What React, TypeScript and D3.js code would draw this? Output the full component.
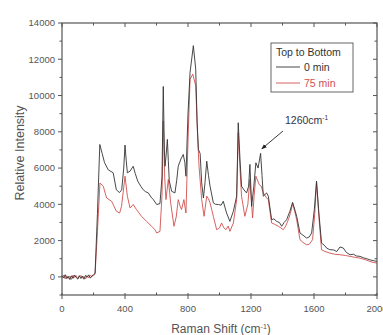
import * as d3 from 'd3';

// Raman spectra, 0 min and 75 min
const shift0 = [0, 10, 20, 30, 40, 50, 60, 70, 80, 90, 100, 110, 120, 130, 140, 150, 160, 170, 180, 190, 200, 210, 225, 240, 255, 270, 294, 325, 345, 365, 379, 392, 400, 408, 415, 432, 452, 465, 481, 500, 516, 530, 548, 565, 580, 601, 622, 635, 643, 650, 654, 660, 669, 675, 681, 696, 717, 728, 738, 755, 770, 780, 787, 800, 813, 834, 849, 858, 866, 877, 887, 898, 908, 919, 930, 940, 961, 975, 993, 1010, 1024, 1045, 1066, 1088, 1109, 1119, 1130, 1140, 1155, 1172, 1185, 1193, 1204, 1218, 1231, 1245, 1261, 1270, 1278, 1299, 1310, 1331, 1345, 1363, 1380, 1395, 1410, 1426, 1447, 1464, 1475, 1490, 1511, 1530, 1553, 1570, 1585, 1602, 1616, 1631, 1648, 1665, 1680, 1700, 1723, 1745, 1765, 1786, 1805, 1829, 1850, 1870, 1892, 1915, 1935, 1955, 1975, 2000];
const intensity0 = [80, -60, 120, -100, 30, -150, 60, -80, 100, -40, -120, 70, -90, 40, -130, 90, -20, 110, -70, 60, 120, 200, 3500, 7300, 6800, 6300, 5900, 5740, 4800, 4650, 4800, 6000, 7270, 6400, 5740, 5830, 6100, 5700, 5280, 5000, 4800, 4700, 4630, 4400, 4260, 3990, 4040, 5500, 10500, 7000, 6100, 6600, 7580, 6400, 5300, 4720, 4630, 5300, 6100, 6500, 6750, 6300, 5550, 9000, 11270, 12750, 11460, 8500, 7030, 6800, 5180, 4350, 5200, 6380, 5600, 5000, 4080, 4000, 3990, 3950, 4170, 3520, 3060, 3620, 4450, 8500, 6500, 5000, 4800, 4630, 5000, 6200, 3890, 5000, 6290, 6000, 6810, 5600, 4450, 4630, 4450, 3150, 3200, 3060, 3000, 2790, 3000, 3150, 3620, 4110, 3800, 3340, 2420, 2300, 2140, 2200, 2420, 3710, 5280, 3520, 1860, 1750, 1590, 1500, 1490, 1400, 1650, 1590, 1350, 1220, 1250, 1150, 1130, 1050, 1000, 940, 900, 850];

const shift75 = [0, 10, 20, 30, 40, 50, 60, 70, 80, 90, 100, 110, 120, 130, 140, 150, 160, 170, 180, 190, 200, 210, 225, 241, 262, 283, 315, 330, 345, 366, 378, 388, 400, 415, 432, 452, 473, 505, 537, 569, 590, 601, 622, 635, 643, 652, 660, 675, 690, 711, 725, 738, 750, 759, 774, 787, 800, 813, 830, 849, 860, 870, 887, 902, 919, 930, 940, 961, 982, 1000, 1013, 1028, 1041, 1055, 1066, 1088, 1109, 1119, 1130, 1140, 1161, 1180, 1193, 1210, 1220, 1231, 1252, 1265, 1278, 1295, 1310, 1331, 1350, 1374, 1390, 1405, 1420, 1437, 1450, 1464, 1478, 1490, 1511, 1530, 1553, 1570, 1591, 1605, 1616, 1631, 1648, 1670, 1701, 1730, 1765, 1800, 1829, 1860, 1892, 1925, 1955, 1975, 2000];
const intensity75 = [-40, 90, -110, 60, -80, 40, -140, 100, -30, 70, -100, -20, 80, -60, 20, -110, 60, -50, 90, 20, 80, 150, 2500, 5180, 5000, 4350, 4170, 3900, 3620, 3520, 3900, 4630, 5550, 4450, 3800, 3990, 3710, 3340, 3060, 2790, 2600, 2420, 2510, 4500, 8600, 5500, 4260, 5370, 4080, 2790, 3300, 4260, 3900, 3710, 4260, 3520, 7500, 10900, 11180, 10540, 8000, 6100, 4260, 3340, 4450, 4300, 4080, 3340, 2600, 2700, 2970, 2700, 2600, 2800, 2510, 2970, 4260, 7950, 6000, 4450, 3340, 4000, 5370, 3250, 4500, 5550, 5090, 5000, 4630, 4400, 4260, 2970, 2900, 2790, 2700, 2600, 2800, 3150, 3500, 4040, 3600, 3150, 2050, 1900, 1770, 1800, 2050, 3500, 5220, 3340, 1490, 1400, 1310, 1250, 1220, 1180, 1130, 1080, 1030, 950, 850, 800, 760];

const xTicks = [0, 400, 800, 1200, 1600, 2000];
const xMinorTicks = [200, 600, 1000, 1400, 1800];
const yTicks = [0, 2000, 4000, 6000, 8000, 10000, 12000, 14000];
const yMinorTicks = [-1000, 1000, 3000, 5000, 7000, 9000, 11000, 13000];
const legendTitle = 'Top to Bottom';
const seriesNames = ['0 min', '75 min'];
const annotation = '1260cm';

const W = 383;
const H = 335;
const left = 62;
const right = 377;
const top = 23;
const bottom = 295;
const axisColor = '#555';
const textColor = '#555';
const font = '"Liberation Sans", Arial, sans-serif';
const black = '#333';
const red = '#d0504f';

export default function App() {
  const x = d3.scaleLinear().domain([0, 2000]).range([left, right]);
  const y = d3.scaleLinear().domain([-1000, 14000]).range([bottom, top]);

  const line = d3
    .line<[number, number]>()
    .x((d) => x(d[0]))
    .y((d) => y(d[1]));

  const pts0 = shift0.map((s, i) => [s, intensity0[i]] as [number, number]);
  const pts75 = shift75.map((s, i) => [s, intensity75[i]] as [number, number]);

  // arrow points at the 1260 peak of the 0 min curve
  const ax = x(1262);
  const ay = y(6950);

  return (
    <svg
      width={W}
      height={H}
      style={{ position: 'absolute', left: 0, top: 0, background: '#fff' }}
      fontFamily={font}
    >
      <defs>
        <marker id="arr" viewBox="0 0 10 10" refX="9" refY="5" markerWidth="6" markerHeight="6" orient="auto">
          <path d="M0,1 L10,5 L0,9 z" fill="#222" />
        </marker>
      </defs>

      {/* series */}
      <path d={line(pts75) ?? ''} fill="none" stroke={red} strokeWidth={0.9} />
      <path d={line(pts0) ?? ''} fill="none" stroke={black} strokeWidth={0.9} />

      {/* frame */}
      <rect x={left} y={top} width={right - left} height={bottom - top} fill="none" stroke={axisColor} strokeWidth={1.2} />

      {/* bottom axis */}
      {xTicks.map((t) => (
        <g key={`xt${t}`}>
          <line x1={x(t)} x2={x(t)} y1={bottom - 2} y2={bottom + 4} stroke={axisColor} />
          <line x1={x(t)} x2={x(t)} y1={top} y2={top + 4} stroke={axisColor} />
          <text x={x(t)} y={bottom + 17} textAnchor="middle" fontSize={9.5} fill={textColor}>
            {t}
          </text>
        </g>
      ))}
      {xMinorTicks.map((t) => (
        <g key={`xm${t}`}>
          <line x1={x(t)} x2={x(t)} y1={bottom - 2.5} y2={bottom} stroke={axisColor} />
          <line x1={x(t)} x2={x(t)} y1={top} y2={top + 2.5} stroke={axisColor} />
        </g>
      ))}

      {/* left axis */}
      {yTicks.map((t) => (
        <g key={`yt${t}`}>
          <line x1={left - 4} x2={left} y1={y(t)} y2={y(t)} stroke={axisColor} />
          <line x1={right - 4} x2={right} y1={y(t)} y2={y(t)} stroke={axisColor} />
          <text x={left - 7} y={y(t)} dy="0.35em" textAnchor="end" fontSize={9.5} fill={textColor}>
            {t}
          </text>
        </g>
      ))}
      {yMinorTicks.map((t) => (
        <g key={`ym${t}`}>
          <line x1={left - 2.5} x2={left} y1={y(t)} y2={y(t)} stroke={axisColor} />
          <line x1={right - 2.5} x2={right} y1={y(t)} y2={y(t)} stroke={axisColor} />
        </g>
      ))}

      {/* axis titles */}
      <text
        transform={`translate(${24},${153}) rotate(-90)`}
        textAnchor="middle"
        fontSize={12.5}
        fill={textColor}
      >
        Relative Intensity
      </text>
      <text x={221} y={333} textAnchor="middle" fontSize={12} fill={textColor}>
        Raman Shift (cm
        <tspan dy={-4} fontSize={7}>-1</tspan>
        <tspan dy={4}>)</tspan>
      </text>

      {/* legend */}
      <rect x={271} y={43} width={82} height={49} fill="#fff" stroke="#666" strokeWidth={1} />
      <text x={276} y={56} fontSize={10.5} fill="#333">
        {legendTitle}
      </text>
      <line x1={276} x2={300} y1={67} y2={67} stroke={black} strokeWidth={0.9} />
      <text x={304} y={71} fontSize={10.5} fill="#333">
        {seriesNames[0]}
      </text>
      <line x1={276} x2={300} y1={83} y2={83} stroke={red} strokeWidth={0.9} />
      <text x={304} y={87} fontSize={10.5} fill={red}>
        {seriesNames[1]}
      </text>

      {/* annotation */}
      <text x={285} y={124} fontSize={10.5} fill="#334">
        {annotation}
        <tspan dy={-4} fontSize={6.5}>-1</tspan>
      </text>
      <line x1={283} y1={131} x2={ax + 1} y2={ay - 2} stroke="#222" strokeWidth={0.9} markerEnd="url(#arr)" />
    </svg>
  );
}
